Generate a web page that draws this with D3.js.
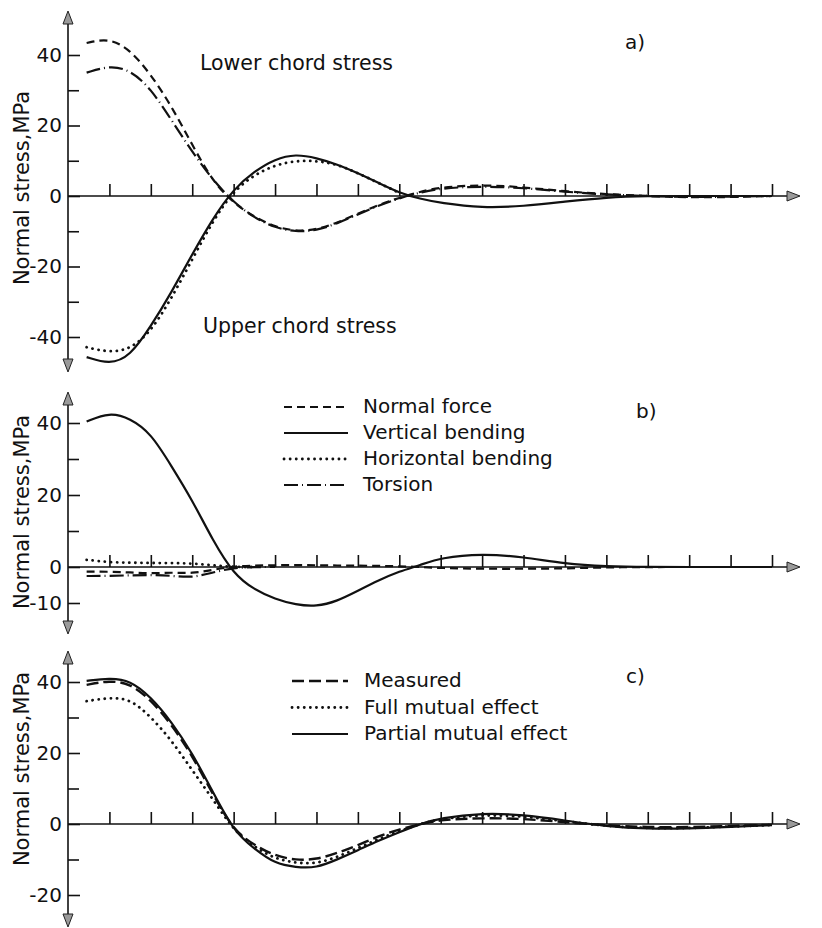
<!DOCTYPE html>
<html><head><meta charset="utf-8">
<script src="https://cdn.jsdelivr.net/npm/d3@7"></script>
<style>
html,body{margin:0;padding:0;background:#fff;}
svg{display:block;}
text{font-family:"DejaVu Sans",sans-serif;fill:#111;}
</style></head>
<body>
<script>
// ---- data (x in tick units along the girder, values in MPa) ----
const xPos = [0.45, 1, 1.5, 2, 2.5, 3, 3.5, 4, 4.5, 5, 5.5, 6, 6.5, 7, 7.5, 8, 8.5, 9, 10, 11, 12, 13, 14, 15, 16, 17];
const xTickUnits = [1,2,3,4,5,6,7,8,9,10,11,12,13,14,15,16,17];

// panel a
const aLowerDashed  = [43.4, 44.8, 41.5, 34.5, 25.5, 14.5, 4, -2, -6, -8.8, -10, -9.6, -7.6, -5, -2.5, -0.5, 1.2, 2.5, 3.2, 2.5, 1.3, 0.5, 0, -0.4, -0.3, 0];
const aLowerDashDot = [35, 37, 35.8, 30.5, 21.5, 12.5, 4.5, -1.8, -6.2, -9, -10.2, -9.8, -7.8, -5.2, -2.7, -0.6, 1, 2.2, 2.8, 2.3, 1.2, 0.4, 0, -0.3, -0.2, 0];
const aUpperSolid   = [-45.7, -47.8, -45.5, -37, -27.3, -16.5, -6.3, 2, 7, 10.5, 11.9, 10.8, 9, 6.5, 3.7, 0.9, -0.8, -2, -3.4, -2.9, -1.6, -0.4, 0, 0, 0, 0];
const aUpperDotted  = [-42.9, -44.4, -43.5, -38.5, -29, -18, -7, 1.5, 6, 8.8, 10, 10, 9, 6.5, 3.7, 0.9, null, null, null, null, null, null, null, null, null, null];
const aTicksMajor = [-40, -20, 0, 20, 40];
const aTicksMinor = [-30, -10, 10, 30];

// panel b
const bNormalForce  = [-1.3, -1.3, -1.5, -1.8, -1.5, -1.8, -0.8, 0.2, 0.4, 0.5, 0.5, 0.5, 0.4, 0.4, 0.3, 0.2, 0, -0.3, -0.5, -0.5, -0.4, -0.1, 0, 0, 0, 0];
const bVertBending  = [40.4, 43, 41.3, 37.2, 28, 18.6, 7.3, -2, -6.3, -8.9, -10.5, -11, -9.5, -6.6, -3.7, -1.2, 0.5, 2.6, 3.7, 2.8, 0.9, 0.2, 0, 0, 0, 0];
const bHorizBending = [2, 1.3, 1.2, 1.1, 1.1, 1, 0.5, 0, 0, null, null, null, null, null, null, null, null, null, null, null, null, null, null, null, null, null];
const bTorsion      = [-2.5, -2.5, -2.3, -2.2, -2.4, -3, -1.5, -0.2, 0, 0, null, null, null, null, null, null, null, null, null, null, null, null, null, null, null, null];
const bTicksMajor = [-10, 0, 20, 40];
const bTicksMinor = [10, 30];

// panel c
const cMeasured = [39.2, 40.4, 39.6, 35, 28, 19.3, 8.3, -1.8, -6, -9, -10.2, -10, -8.2, -6, -3.4, -1.5, 0, 1.2, 1.7, 1.5, 0.5, -0.4, -0.9, -0.9, -0.5, -0.2];
const cFull     = [34.6, 35.6, 35.3, 30.2, 23.6, 15.1, 7, -1.8, -6.5, -9.8, -11, -11.2, -9.3, -6.8, -4.2, -2, 0, 1.5, 2.6, 2.2, 0.8, -0.6, -1.2, -1.2, -0.7, -0.3];
const cPartial  = [40.3, 41.1, 40.5, 35.8, 28.8, 20, 9, -2, -7, -11.2, -12.2, -12.4, -10, -7.4, -4.7, -2.3, 0, 1.7, 3.1, 2.6, 1, -0.7, -1.4, -1.3, -0.8, -0.3];
const cTicksMajor = [-20, 0, 20, 40];
const cTicksMinor = [-10, 10, 30];

const yTitle = "Normal stress,MPa";
const legendB = ["Normal force", "Vertical bending", "Horizontal bending", "Torsion"];
const legendC = ["Measured", "Full mutual effect", "Partial mutual effect"];

// ---- styles ----
const STY = {
  solid:   {dash: null,        w: 2.2, cap: "butt"},
  dashed:  {dash: "8,5",       w: 2.2, cap: "butt"},
  dashedL: {dash: "12,5",      w: 2.4, cap: "butt"},
  dotted:  {dash: "0.1,6",     w: 2.8, cap: "round"},
  dashdot: {dash: "14,4,1,4",  w: 2.2, cap: "butt"}
};

const W = 822, H = 928;
const svg = d3.select("body").append("svg").attr("width", W).attr("height", H);

const x = d3.scaleLinear().domain([0, 17]).range([68, 772]);
const AXX = x(0);

function panel(cfg) {
  const g = svg.append("g");
  const y = d3.scaleLinear().domain(cfg.domain).range(cfg.range);
  const y0 = y(0);

  // y axis line
  g.append("line").attr("x1", AXX).attr("x2", AXX)
    .attr("y1", cfg.axTop + 12).attr("y2", cfg.axBot - 12)
    .attr("stroke", "#111").attr("stroke-width", 1.6);
  // arrows
  const ah = 13, aw = 5;
  g.append("path").attr("d", `M${AXX},${cfg.axTop} L${AXX-aw},${cfg.axTop+ah} L${AXX+aw},${cfg.axTop+ah} Z`)
    .attr("fill", "#9a9a9a").attr("stroke", "#222").attr("stroke-width", 1);
  g.append("path").attr("d", `M${AXX},${cfg.axBot} L${AXX-aw},${cfg.axBot-ah} L${AXX+aw},${cfg.axBot-ah} Z`)
    .attr("fill", "#9a9a9a").attr("stroke", "#222").attr("stroke-width", 1);

  // y axis ticks via d3 axis
  const ax = d3.axisLeft(y).tickValues(cfg.major).tickSize(-12).tickPadding(6)
    .tickFormat(d => String(d));
  const ag = g.append("g").attr("transform", `translate(${AXX},0)`).call(ax);
  ag.select(".domain").remove();
  ag.selectAll(".tick line").attr("stroke", "#111").attr("stroke-width", 1.6);
  ag.selectAll(".tick text").attr("font-size", 20).attr("font-family", "DejaVu Sans").attr("fill", "#111");
  const axm = d3.axisLeft(y).tickValues(cfg.minor).tickSize(-11).tickFormat("");
  const amg = g.append("g").attr("transform", `translate(${AXX},0)`).call(axm);
  amg.select(".domain").remove();
  amg.selectAll(".tick line").attr("stroke", "#111").attr("stroke-width", 1.6);

  // x axis line
  const xEnd = 800;
  g.append("line").attr("x1", AXX).attr("x2", xEnd - 12).attr("y1", y0).attr("y2", y0)
    .attr("stroke", "#111").attr("stroke-width", 1.6);
  g.append("path").attr("d", `M${xEnd},${y0} L${xEnd-13},${y0-5} L${xEnd-13},${y0+5} Z`)
    .attr("fill", "#9a9a9a").attr("stroke", "#222").attr("stroke-width", 1);
  // x ticks (upwards)
  const xa = d3.axisTop(x).tickValues(xTickUnits).tickSize(12).tickFormat("");
  const xg = g.append("g").attr("transform", `translate(0,${y0})`).call(xa);
  xg.select(".domain").remove();
  xg.selectAll(".tick line").attr("stroke", "#111").attr("stroke-width", 1.6);

  // y title
  g.append("text").attr("transform", `translate(29,${cfg.titleY}) rotate(-90)`)
    .attr("text-anchor", "middle").attr("font-size", 21).text(yTitle);

  // curves
  const line = d3.line().defined(d => d[1] !== null)
    .x(d => x(d[0])).y(d => y(d[1])).curve(d3.curveBasis);
  cfg.series.forEach(s => {
    const st = STY[s.style];
    const pts = xPos.map((u, i) => [u, s.values[i]]);
    g.append("path").attr("d", line(pts)).attr("fill", "none")
      .attr("stroke", "#111").attr("stroke-width", st.w)
      .attr("stroke-dasharray", st.dash).attr("stroke-linecap", st.cap)
      .attr("stroke-linejoin", "round");
  });
  return {g, y};
}

// Panel a
const pa = panel({domain: [-40, 40], range: [337, 55], axTop: 11, axBot: 372, titleY: 188,
  major: aTicksMajor, minor: aTicksMinor,
  series: [
    {values: aLowerDashed, style: "dashed"},
    {values: aLowerDashDot, style: "dashdot"},
    {values: aUpperSolid, style: "solid"},
    {values: aUpperDotted, style: "dotted"}
  ]});
pa.g.append("text").attr("x", 200).attr("y", 70).attr("font-size", 20.5).text("Lower chord stress");
pa.g.append("text").attr("x", 203).attr("y", 333).attr("font-size", 20.5).text("Upper chord stress");
pa.g.append("text").attr("x", 625).attr("y", 49).attr("font-size", 20).text("a)");

// Panel b
const pb = panel({domain: [-10, 40], range: [603, 423], axTop: 392, axBot: 634, titleY: 512,
  major: bTicksMajor, minor: bTicksMinor,
  series: [
    {values: bNormalForce, style: "dashed"},
    {values: bVertBending, style: "solid"},
    {values: bHorizBending, style: "dotted"},
    {values: bTorsion, style: "dashdot"}
  ]});
const legBStyles = ["dashed", "solid", "dotted", "dashdot"];
legendB.forEach((t, i) => {
  const yy = 407 + i * 26;
  const st = STY[legBStyles[i]];
  pb.g.append("line").attr("x1", 284).attr("x2", 348).attr("y1", yy).attr("y2", yy)
    .attr("stroke", "#111").attr("stroke-width", st.w).attr("stroke-dasharray", st.dash)
    .attr("stroke-linecap", st.cap);
  pb.g.append("text").attr("x", 363).attr("y", yy + 6).attr("font-size", 20).text(t);
});
pb.g.append("text").attr("x", 636).attr("y", 418).attr("font-size", 20).text("b)");

// Panel c
const pc = panel({domain: [-20, 40], range: [895, 682], axTop: 651, axBot: 927, titleY: 769,
  major: cTicksMajor, minor: cTicksMinor,
  series: [
    {values: cMeasured, style: "dashedL"},
    {values: cFull, style: "dotted"},
    {values: cPartial, style: "solid"}
  ]});
const legCStyles = ["dashedL", "dotted", "solid"];
legendC.forEach((t, i) => {
  const yy = 681 + i * 26.5;
  const st = STY[legCStyles[i]];
  pc.g.append("line").attr("x1", 292).attr("x2", 348).attr("y1", yy).attr("y2", yy)
    .attr("stroke", "#111").attr("stroke-width", st.w).attr("stroke-dasharray", st.dash)
    .attr("stroke-linecap", st.cap);
  pc.g.append("text").attr("x", 364).attr("y", yy + 6).attr("font-size", 20).text(t);
});
pc.g.append("text").attr("x", 626).attr("y", 683).attr("font-size", 20).text("c)");
</script>
</body></html>
